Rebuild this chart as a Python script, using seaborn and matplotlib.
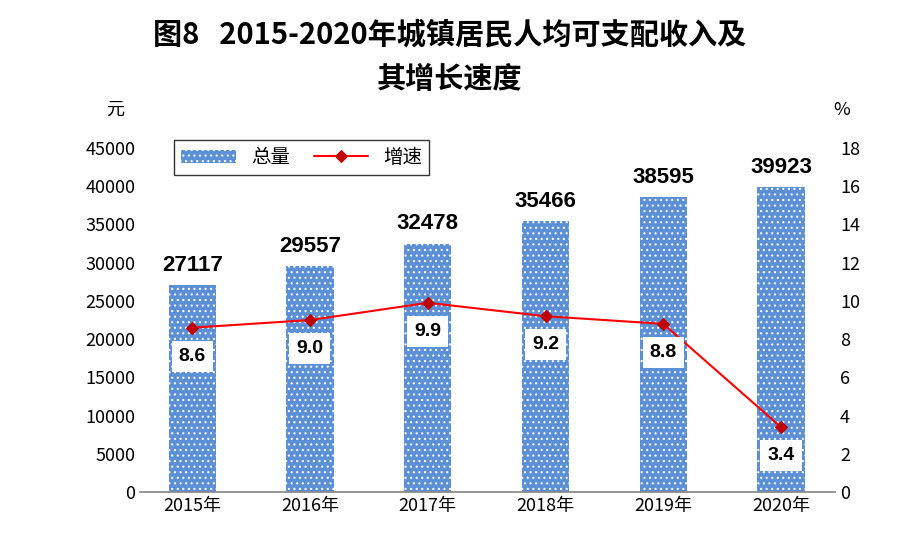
import matplotlib
matplotlib.use("Agg")
import matplotlib.pyplot as plt
from matplotlib.font_manager import FontProperties
import seaborn as sns
import pandas as pd

years = ["2015年", "2016年", "2017年", "2018年", "2019年", "2020年"]
income = [27117, 29557, 32478, 35466, 38595, 39923]
growth = [8.6, 9.0, 9.9, 9.2, 8.8, 3.4]

sns.set_theme(style="white")
plt.rcParams['font.family'] = ['Noto Sans CJK SC', 'DejaVu Sans']
plt.rcParams['hatch.linewidth'] = 0.8
plt.rcParams['text.color'] = 'black'

num_big = FontProperties(family="Liberation Sans", weight="bold", size=16)
num_box = FontProperties(family="Liberation Sans", weight="bold", size=14)

df = pd.DataFrame({"year": years, "income": income, "growth": growth})

fig = plt.figure(figsize=(9, 5.6), dpi=100)
ax = fig.add_axes([0.156, 0.121, 0.772, 0.615])
sns.barplot(data=df, x="year", y="income", color="#5b8fd6", width=0.4,
            saturation=1, ax=ax, label="总量")
for p in ax.patches:
    p.set_hatch("...")
    p.set_edgecolor("white")
    p.set_linewidth(0)
ax.set_xlim(-0.44, 5.46)
ax.set_ylim(0, 45000)
ax.set_yticks(range(0, 45001, 5000))
ax.set_xlabel("")
ax.set_ylabel("")
ax.tick_params(labelsize=13, length=0, colors="black")
for s in ["top", "right", "left"]:
    ax.spines[s].set_visible(False)
ax.spines["bottom"].set_color("#888888")
for i, v in enumerate(income):
    ax.text(i, v + 1200, str(v), ha="center", va="bottom", fontproperties=num_big)

ax2 = ax.twinx()
sns.lineplot(x=list(range(6)), y=growth, ax=ax2, color="#ff0000", lw=1.5,
             marker="D", markersize=6, markerfacecolor="#c00000",
             markeredgecolor="#c00000", label="增速")
ax2.set_ylim(0, 18)
ax2.set_yticks(range(0, 19, 2))
ax2.tick_params(labelsize=13, length=0, colors="black")
for s in ["top", "right", "left", "bottom"]:
    ax2.spines[s].set_visible(False)
for i, v in enumerate(growth):
    ax2.text(i, v - 1.5, f"{v:.1f}", ha="center", va="center",
             fontproperties=num_box,
             bbox=dict(facecolor="white", edgecolor="none", pad=5))

h1, l1 = ax.get_legend_handles_labels()
h2, l2 = ax2.get_legend_handles_labels()
ax2.get_legend().remove()
leg = ax.legend(h1 + h2, l1 + l2, loc="upper left", bbox_to_anchor=(0.035, 1.05),
                ncol=2, fontsize=14, frameon=True, fancybox=False,
                edgecolor="black", handlelength=2.8, columnspacing=1.2,
                borderpad=0.35)
leg.get_frame().set_linewidth(1)

fig.text(0.5, 0.965, "图8   2015-2020年城镇居民人均可支配收入及", ha="center",
         va="top", fontsize=21, fontweight="bold")
fig.text(0.5, 0.885, "其增长速度", ha="center", va="top", fontsize=21,
         fontweight="bold")
fig.text(0.118, 0.795, "元", fontsize=13)
fig.text(0.926, 0.795, "%", fontsize=13)

fig.savefig("out.png", dpi=100)
